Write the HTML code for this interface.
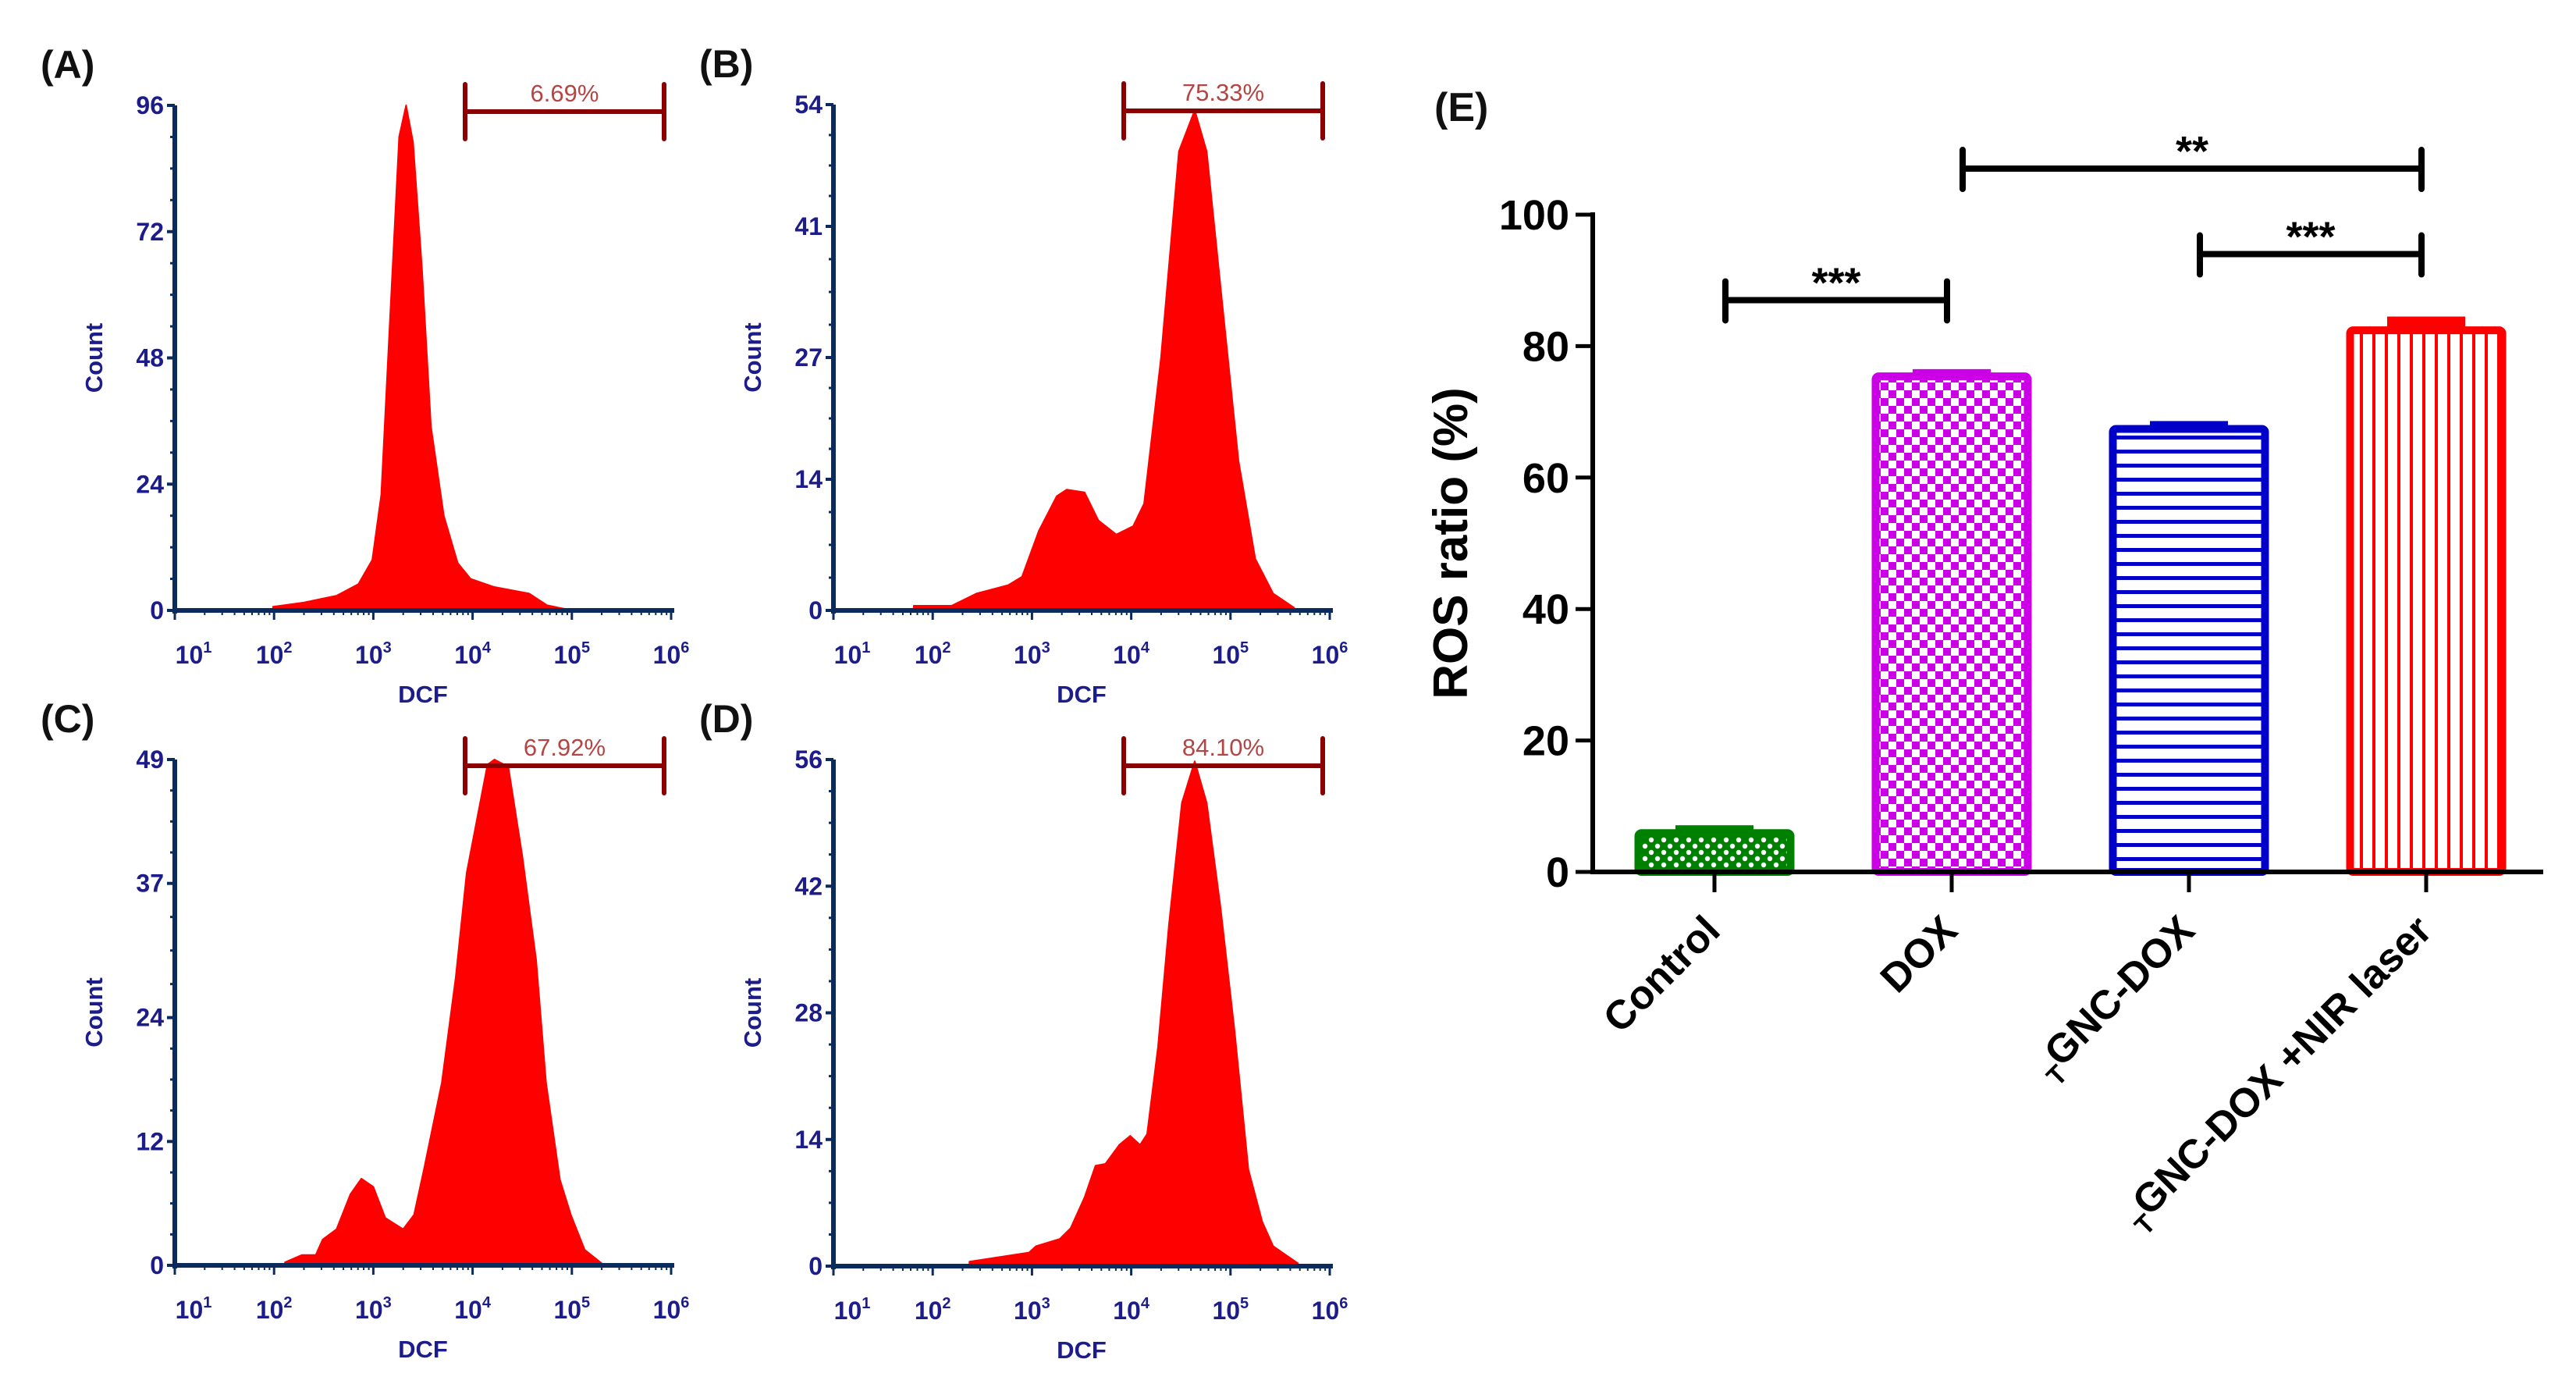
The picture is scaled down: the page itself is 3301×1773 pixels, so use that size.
<!DOCTYPE html>
<html><head><meta charset="utf-8"><style>
html,body{margin:0;padding:0;background:#fff;}
svg{display:block;font-family:"Liberation Sans",Arial,sans-serif;}
</style></head><body>
<svg id="fig" width="3301" height="1773" viewBox="0 0 3301 1773" xmlns="http://www.w3.org/2000/svg">
<defs>
<pattern id="pGreen" width="16" height="16" patternUnits="userSpaceOnUse">
<rect width="16" height="16" fill="#008000"/><circle cx="4" cy="4" r="3.2" fill="#fff"/><circle cx="12" cy="12" r="3.2" fill="#fff"/></pattern>
<pattern id="pMag" width="20" height="20" patternUnits="userSpaceOnUse">
<rect width="20" height="20" fill="#fff"/><rect width="10" height="10" fill="#cc00e6"/><rect x="10" y="10" width="10" height="10" fill="#cc00e6"/></pattern>
<pattern id="pBlue" width="18" height="18" patternUnits="userSpaceOnUse">
<rect width="18" height="18" fill="#fff"/><rect y="0" width="18" height="5" fill="#0000c8"/></pattern>
<pattern id="pRed" width="16" height="16" patternUnits="userSpaceOnUse">
<rect width="16" height="16" fill="#fff"/><rect x="0" width="4" height="16" fill="#ff0000"/></pattern>
</defs>
<g id="hist"></g>
<g id="bars"></g>
</svg>
<script>
// ---------- Flow cytometry histogram data (log10 DCF, count) ----------
const histA_log = [1.99,2.3,2.63,2.85,2.99,3.08,3.17,3.26,3.33,3.40,3.49,3.58,3.71,3.85,3.98,4.21,4.57,4.75,5.0];
const histA_cnt = [0.7,1.5,2.8,5,9.6,22,56,90,96,89,65,35,18,9,6,4.5,3.2,1,0];
const histB_log = [1.81,2.19,2.44,2.76,2.90,3.07,3.25,3.35,3.53,3.67,3.85,4.02,4.13,4.30,4.48,4.64,4.76,4.90,5.08,5.25,5.43,5.64];
const histB_cnt = [0.5,0.5,1.8,2.7,3.6,8.5,12.2,12.9,12.6,9.6,8.1,9,11.4,27,49,53.4,49,34.5,16,5.5,1.8,0.3];
const histC_log = [2.11,2.28,2.42,2.49,2.63,2.77,2.88,3.0,3.12,3.30,3.41,3.51,3.69,3.83,3.94,4.04,4.15,4.22,4.36,4.50,4.64,4.74,4.88,4.99,5.13,5.30];
const histC_cnt = [0.3,1,1,2.5,3.5,6.9,8.4,7.6,4.6,3.5,4.9,9.3,17.7,27.9,38,43,48.5,49,48.3,39.7,29.6,17.7,8.3,4.9,1.5,0.2];
const histD_log = [2.37,2.97,3.04,3.28,3.39,3.53,3.64,3.74,3.88,3.99,4.09,4.16,4.27,4.38,4.51,4.64,4.76,4.90,5.04,5.18,5.32,5.43,5.68];
const histD_cnt = [0.5,1.5,2.2,3,4.2,7.6,11.1,11.3,13.4,14.4,13.4,14.6,24.2,37.7,51.2,55.8,51.2,39.6,26.1,10.7,4.9,2.2,0.3];
const yTicksA = [0,24,48,72,96];
const yTicksB = [0,14,27,41,54];
const yTicksC = [0,12,24,37,49];
const yTicksD = [0,14,28,42,56];
const gateLabels = ["6.69%","75.33%","67.92%","84.10%"];
const panelLetters = ["(A)","(B)","(C)","(D)"];
const xDecades = [1,2,3,4,5,6];

// ---------- Bar chart data ----------
const categories = ["Control","DOX","GNC-DOX","GNC-DOX +NIR laser"];
const barValues = [6.5,76,68,83];
const barErrors = [0.6,0.5,0.6,1.5];
const roseTicks = [0,20,40,60,80,100];
const sigPairs = [[0,1],[1,3],[2,3]];
const sigLabels = ["***","**","***"];
const sigHeights = [87,107,94];

const NS="http://www.w3.org/2000/svg";
function mk(tag, attrs, parent, text){
  const e=document.createElementNS(NS,tag);
  for(const k in attrs) e.setAttribute(k,attrs[k]);
  if(text!==undefined) e.textContent=text;
  parent.appendChild(e); return e;
}
const hist=document.getElementById('hist');
const bars=document.getElementById('bars');
const NAVY="#1c1c8a", AX="#0b2b5c";

const panels=[
 {ox:224, top:135, bot:782, logs:histA_log, cnts:histA_cnt, ticks:yTicksA},
 {ox:1068,top:134, bot:782, logs:histB_log, cnts:histB_cnt, ticks:yTicksB},
 {ox:224, top:973, bot:1621,logs:histC_log, cnts:histC_cnt, ticks:yTicksC},
 {ox:1068,top:973, bot:1622,logs:histD_log, cnts:histD_cnt, ticks:yTicksD}
];
const DEC=127.2;
panels.forEach((p,i)=>{
  const g=mk('g',{},hist);
  
  
  const ymax=p.ticks[p.ticks.length-1];
  const xs=l=>p.ox+(l-1)*DEC;
  const ys=c=>p.bot-(c/ymax)*(p.bot-p.top);
  let d='M'+xs(p.logs[0])+','+p.bot;
  for(let k=0;k<p.logs.length;k++) d+=' L'+xs(p.logs[k]).toFixed(1)+','+ys(p.cnts[k]).toFixed(1);
  d+=' L'+xs(p.logs[p.logs.length-1])+','+p.bot+' Z';
  const area=mk('path',{d:d,fill:'#ff0000','stroke':'#ff0000','stroke-width':2,'stroke-linejoin':'round'},g);
  
  
  const ya=mk('line',{x1:p.ox,y1:p.top,x2:p.ox,y2:p.bot+4,stroke:AX,'stroke-width':6},g);
  
  
  const xa=mk('line',{x1:p.ox-3,y1:p.bot,x2:p.ox+640,y2:p.bot,stroke:AX,'stroke-width':6},g);
  
  
  p.ticks.forEach((t,k)=>{
    const y=ys(t);
    mk('line',{x1:p.ox-10,y1:y,x2:p.ox,y2:y,stroke:AX,'stroke-width':4},g);
    const tl=mk('text',{x:p.ox-14,y:y+11,'text-anchor':'end','font-size':32,'font-weight':'bold',fill:NAVY},g,String(t));
    
    
    if(k<p.ticks.length-1){
      const y2=ys(p.ticks[k+1]);
      for(let m=1;m<4;m++){const ym=y+(y2-y)*m/4; mk('line',{x1:p.ox-6,y1:ym,x2:p.ox,y2:ym,stroke:AX,'stroke-width':3},g);}
    }
  });
  xDecades.forEach((dcd,k)=>{
    const x=xs(dcd);
    mk('line',{x1:x,y1:p.bot,x2:x,y2:p.bot+12,stroke:AX,'stroke-width':3},g);
    if(k<xDecades.length-1) for(let m=2;m<10;m++){const xm=xs(dcd+Math.log10(m)); mk('line',{x1:xm,y1:p.bot,x2:xm,y2:p.bot+6,stroke:AX,'stroke-width':2},g);}
    const lx = k===0 ? x+24 : x;
    const tl=mk('text',{x:lx,y:p.bot+68,'text-anchor':'middle','font-size':32,'font-weight':'bold',fill:NAVY},g);
    
    
    mk('tspan',{},tl,'10');
    mk('tspan',{dy:-14,'font-size':20},tl,String(dcd));
  });
  const xt=mk('text',{x:p.ox+318,y:p.bot+118,'text-anchor':'middle','font-size':31,'font-weight':'bold',fill:NAVY},g,'DCF');
  
  
  const cy=(p.top+p.bot)/2;
  const yt=mk('text',{x:p.ox-93,y:cy,'text-anchor':'middle','font-size':31,'font-weight':'bold',fill:NAVY,transform:'rotate(-90 '+(p.ox-93)+' '+cy+')'},g,'Count');
  
  
  const gg=mk('g',{},g);
  
  
  const gl=p.ox+372, gr=p.ox+627, gy=p.top+8;
  mk('line',{x1:gl,y1:gy,x2:gr,y2:gy,stroke:'#8b0000','stroke-width':6},gg);
  mk('line',{x1:gl,y1:gy-35,x2:gl,y2:gy+35,stroke:'#8b0000','stroke-width':6,'stroke-linecap':'round'},gg);
  mk('line',{x1:gr,y1:gy-35,x2:gr,y2:gy+35,stroke:'#8b0000','stroke-width':6,'stroke-linecap':'round'},gg);
  const gt=mk('text',{x:(gl+gr)/2,y:gy-13,'text-anchor':'middle','font-size':31,fill:'#b34545'},gg,gateLabels[i]);
  
  
  const pl=mk('text',{x:p.ox-172,y:p.top-35,'font-size':50,'font-weight':'bold',fill:'#111'},g,panelLetters[i]);
  
  
});

// ---------- Panel E bar chart ----------
const EX0=2041, EX1=3259, EY0=1117, EY100=275;
const ey=v=>EY0-(v/100)*(EY0-EY100);
const ex=i=>2197+i*304;
const BW=205;
const fills=['url(#pGreen)','url(#pMag)','url(#pBlue)','url(#pRed)'];
const strokes=['#008000','#cc00e6','#0000c8','#ff0000'];
const eg=mk('g',{},bars);


barValues.forEach((v,i)=>{
  const cx=ex(i), x=cx-BW/2, y=ey(v);
  const r=mk('rect',{x:x+5,y:y+5,width:BW-10,height:EY0-y-5,fill:fills[i],stroke:strokes[i],'stroke-width':10,rx:4},eg);
  
  
  const ye=ey(v+barErrors[i]);
  const eb=mk('rect',{x:cx-50,y:ye,width:100,height:y-ye+5,fill:strokes[i]},eg);
  
  
  mk('line',{x1:cx,y1:EY0,x2:cx,y2:EY0+26,stroke:'#000','stroke-width':5},eg);
  const lx=cx+10, ly=EY0+78;
  const t=mk('text',{x:lx,y:ly,'text-anchor':'end','font-size':52,'font-weight':'bold',fill:'#000',transform:'rotate(-45 '+lx+' '+ly+')'},eg);
  
  
  if(i>=2){ mk('tspan',{'font-size':34,dy:14},t,'T'); mk('tspan',{dy:-14},t,categories[i]); }
  else mk('tspan',{},t,categories[i]);
});
const eya=mk('line',{x1:EX0,y1:EY100-3,x2:EX0,y2:EY0+3,stroke:'#000','stroke-width':6},eg);


const exa=mk('line',{x1:EX0-3,y1:EY0,x2:EX1,y2:EY0,stroke:'#000','stroke-width':6},eg);


roseTicks.forEach(t=>{
  const y=ey(t);
  mk('line',{x1:EX0-22,y1:y,x2:EX0,y2:y,stroke:'#000','stroke-width':5},eg);
  const tl=mk('text',{x:EX0-30,y:y+19,'text-anchor':'end','font-size':54,'font-weight':'bold',fill:'#000'},eg,String(t));
  
  
});
const tyc=(EY0+EY100)/2;
const eyt=mk('text',{x:1880,y:tyc,'text-anchor':'middle','font-size':62,'font-weight':'bold',fill:'#000',transform:'rotate(-90 1880 '+tyc+')'},eg,'ROS ratio (%)');


sigPairs.forEach((pr,k)=>{
  const sg=mk('g',{},eg);
  
  
  const y=ey(sigHeights[k]);
  const x1=ex(pr[0])+14, x2=ex(pr[1])-6;
  mk('line',{x1:x1,y1:y,x2:x2,y2:y,stroke:'#000','stroke-width':8},sg);
  mk('line',{x1:x1,y1:y-24,x2:x1,y2:y+26,stroke:'#000','stroke-width':8,'stroke-linecap':'round'},sg);
  mk('line',{x1:x2,y1:y-24,x2:x2,y2:y+26,stroke:'#000','stroke-width':8,'stroke-linecap':'round'},sg);
  mk('text',{x:(x1+x2)/2,y:y-4,'text-anchor':'middle','font-size':54,'font-weight':'bold',fill:'#000'},sg,sigLabels[k]);
});
const el=mk('text',{x:1838,y:155,'font-size':52,'font-weight':'bold',fill:'#111'},eg,'(E)');


</script>
</body></html>
